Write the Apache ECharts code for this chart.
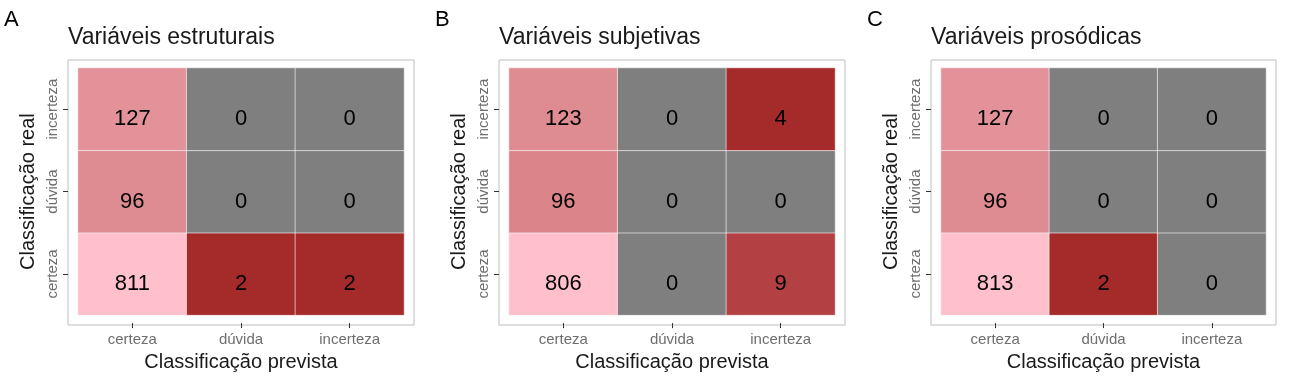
<!DOCTYPE html>
<html>
<head>
<meta charset="utf-8">
<script src="https://cdn.jsdelivr.net/npm/echarts@6/dist/echarts.min.js"></script>
<style>
  html, body { margin: 0; padding: 0; background: #fff; }
  #chart { width: 1298px; height: 377px; }
</style>
</head>
<body>
<div id="chart"></div>
<script>
// categorias (eixo y de baixo para cima)
const classesReais = ['certeza', 'dúvida', 'incerteza']
const classesPrevistas = ['certeza', 'dúvida', 'incerteza']
const letras = ['A', 'B', 'C']
const titulos = ['Variáveis estruturais', 'Variáveis subjetivas', 'Variáveis prosódicas']
// linhas = classe real (certeza, dúvida, incerteza), colunas = classe prevista
const estruturais = [[811, 2, 2], [96, 0, 0], [127, 0, 0]]
const subjetivas = [[806, 0, 9], [96, 0, 0], [123, 0, 4]]
const prosodicas = [[813, 2, 0], [96, 0, 0], [127, 0, 0]]
const matrizes = [estruturais, subjetivas, prosodicas]

const FONT = 'Liberation Sans, Arial, sans-serif'
const lefts = [78, 509, 941]
const widths = [326, 326, 325]
const TOP = 68
const HEIGHT = 249
const PADX = 10
const PADY = 8

// escala log entre brown e pink, zero fica cinza
const low = [165, 42, 42]
const high = [255, 192, 203]
function cor(v, min, max) {
  if (v === 0) return '#7f7f7f'
  let t = max === min ? 1 : (Math.log(v) - Math.log(min)) / (Math.log(max) - Math.log(min))
  let c = low.map((l, i) => Math.round(l + (high[i] - l) * t))
  return 'rgb(' + c.join(',') + ')'
}

let mycharts = echarts.init(document.getElementById('chart'))
let grid = [], xAxis = [], yAxis = [], series = [], title = [], graphic = []

matrizes.forEach((m, k) => {
  let vals = m.flat().filter(v => v > 0)
  let min = Math.min(...vals), max = Math.max(...vals)
  let data = []
  m.forEach((row, r) => {
    row.forEach((v, c) => {
      data.push({ value: [c, r, v], itemStyle: { color: cor(v, min, max) } })
    })
  })
  grid.push({ left: lefts[k], top: TOP, width: widths[k], height: HEIGHT })
  // moldura cinza do painel
  graphic.push({
    type: 'rect',
    z: -1,
    shape: { x: lefts[k] - PADX, y: TOP - PADY, width: widths[k] + 2 * PADX, height: HEIGHT + 2 * PADY },
    style: { fill: '#fff', stroke: '#bdbdbd', lineWidth: 1 },
  })
  title.push({
    text: letras[k],
    left: lefts[k] - 74,
    top: 9,
    padding: 0,
    textStyle: { fontFamily: FONT, fontSize: 22, fontWeight: 'normal', color: '#000' },
  })
  title.push({
    text: titulos[k],
    left: lefts[k] - PADX,
    top: 26,
    padding: 0,
    textStyle: { fontFamily: FONT, fontSize: 23, fontWeight: 'normal', color: '#1a1a1a' },
  })
  xAxis.push({
    type: 'category',
    gridIndex: k,
    data: classesPrevistas,
    offset: PADY,
    name: 'Classificação prevista',
    nameLocation: 'middle',
    nameGap: 28,
    nameTextStyle: { fontFamily: FONT, fontSize: 20, color: '#1a1a1a' },
    axisLine: { show: false },
    axisTick: { show: true, alignWithLabel: true, length: 5, lineStyle: { color: '#333' } },
    axisLabel: { fontFamily: FONT, fontSize: 15, color: '#6e6e6e', margin: 9 },
    splitLine: { show: false },
  })
  yAxis.push({
    type: 'category',
    gridIndex: k,
    data: classesReais,
    offset: PADX,
    name: 'Classificação real',
    nameLocation: 'middle',
    nameGap: 30,
    nameRotate: 90,
    nameTextStyle: { fontFamily: FONT, fontSize: 20, color: '#1a1a1a' },
    axisLine: { show: false },
    axisTick: { show: true, alignWithLabel: true, length: 5, lineStyle: { color: '#333' } },
    axisLabel: { fontFamily: FONT, fontSize: 15, color: '#6e6e6e', rotate: 90, margin: 8 },
    splitLine: { show: false },
  })
  series.push({
    type: 'heatmap',
    xAxisIndex: k,
    yAxisIndex: k,
    data: data,
    itemStyle: { borderColor: 'rgba(255,255,255,0.6)', borderWidth: 1 },
    label: {
      show: true,
      formatter: p => p.value[2],
      fontFamily: FONT,
      fontSize: 22,
      color: '#000',
      offset: [0, 10],
    },
    emphasis: { disabled: true },
  })
})

mycharts.setOption({
  animation: false,
  title,
  grid,
  xAxis,
  yAxis,
  series,
  graphic,
})
</script>
</body>
</html>
